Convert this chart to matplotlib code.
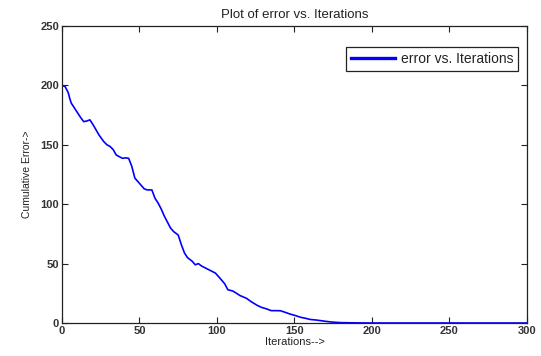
import matplotlib
matplotlib.use("Agg")
import matplotlib.pyplot as plt

plt.rcParams['font.family'] = ['Liberation Sans', 'DejaVu Sans']

iterations = [0, 2, 4, 5, 6, 8, 10, 12, 14, 16, 18, 20, 22, 24, 27, 29, 31, 33, 35, 37, 39, 41, 43, 45, 47,
              49, 51, 53, 55, 58, 60, 62, 64, 66, 68, 70, 72, 74, 75, 77, 79, 81, 84, 86, 88, 90, 93, 96,
              99, 102, 105, 107, 110, 112, 115, 119, 122, 126, 129, 131, 135, 138, 141, 144, 147, 150,
              154, 157, 160, 164, 169, 174, 180, 190, 200, 220, 250, 280, 300]
errors = [200, 199, 194, 189, 185, 181, 177, 173, 169.5, 170, 171, 167, 162.5, 158, 152.6, 150, 148.6, 146,
          141.4, 140, 138.6, 139, 138.6, 132, 122, 119, 116, 113, 112, 112, 105, 101, 96, 90, 85, 80, 77,
          75, 74, 66, 59, 55, 52, 49, 50, 48, 46, 44, 42, 37.6, 33, 28, 27, 25.5, 23, 20.8, 18, 14.8,
          13, 12.3, 10.4, 10.4, 10.3, 9, 7.6, 6.5, 4.8, 4, 3, 2.5, 1.6, 0.8, 0.3, 0.1, 0, 0, 0, 0, 0]

x_ticks = [0, 50, 100, 150, 200, 250, 300]
y_ticks = [0, 50, 100, 150, 200, 250]

fig = plt.figure(figsize=(5.41, 3.56), dpi=100)
ax = fig.add_axes([0.1146, 0.0927, 0.8594, 0.8343])

ax.plot(iterations, errors, color='#0000ff', linewidth=1.2, label='error vs. Iterations')

ax.set_xlim(0, 300)
ax.set_ylim(0, 250)
ax.set_xticks(x_ticks)
ax.set_yticks(y_ticks)
ax.tick_params(direction='in', top=True, right=True, length=4, width=0.8,
               labelsize=8, colors='#222222', pad=2)
for lab in ax.get_xticklabels() + ax.get_yticklabels():
    lab.set_fontweight('bold')
    lab.set_color('#333333')
for s in ax.spines.values():
    s.set_linewidth(0.9)
    s.set_color('#222222')

ax.set_title('Plot of error vs. Iterations', fontsize=9.5, color='#222222', pad=6)
ax.set_xlabel('Iterations-->', fontsize=8, color='#222222', labelpad=1)
ax.set_ylabel('Cumulative Error->', fontsize=7.5, color='#222222', labelpad=6)

leg = ax.legend(loc='upper right', fontsize=10, fancybox=False, framealpha=1,
                edgecolor='#222222', handlelength=3.2, handletextpad=0.4, borderpad=0.35,
                borderaxespad=0, bbox_to_anchor=(0.981, 0.929))
leg.get_frame().set_linewidth(0.9)
for line in leg.get_lines():
    line.set_linewidth(2.4)
for t in leg.get_texts():
    t.set_color('#222222')

fig.savefig('out.png', dpi=100)
